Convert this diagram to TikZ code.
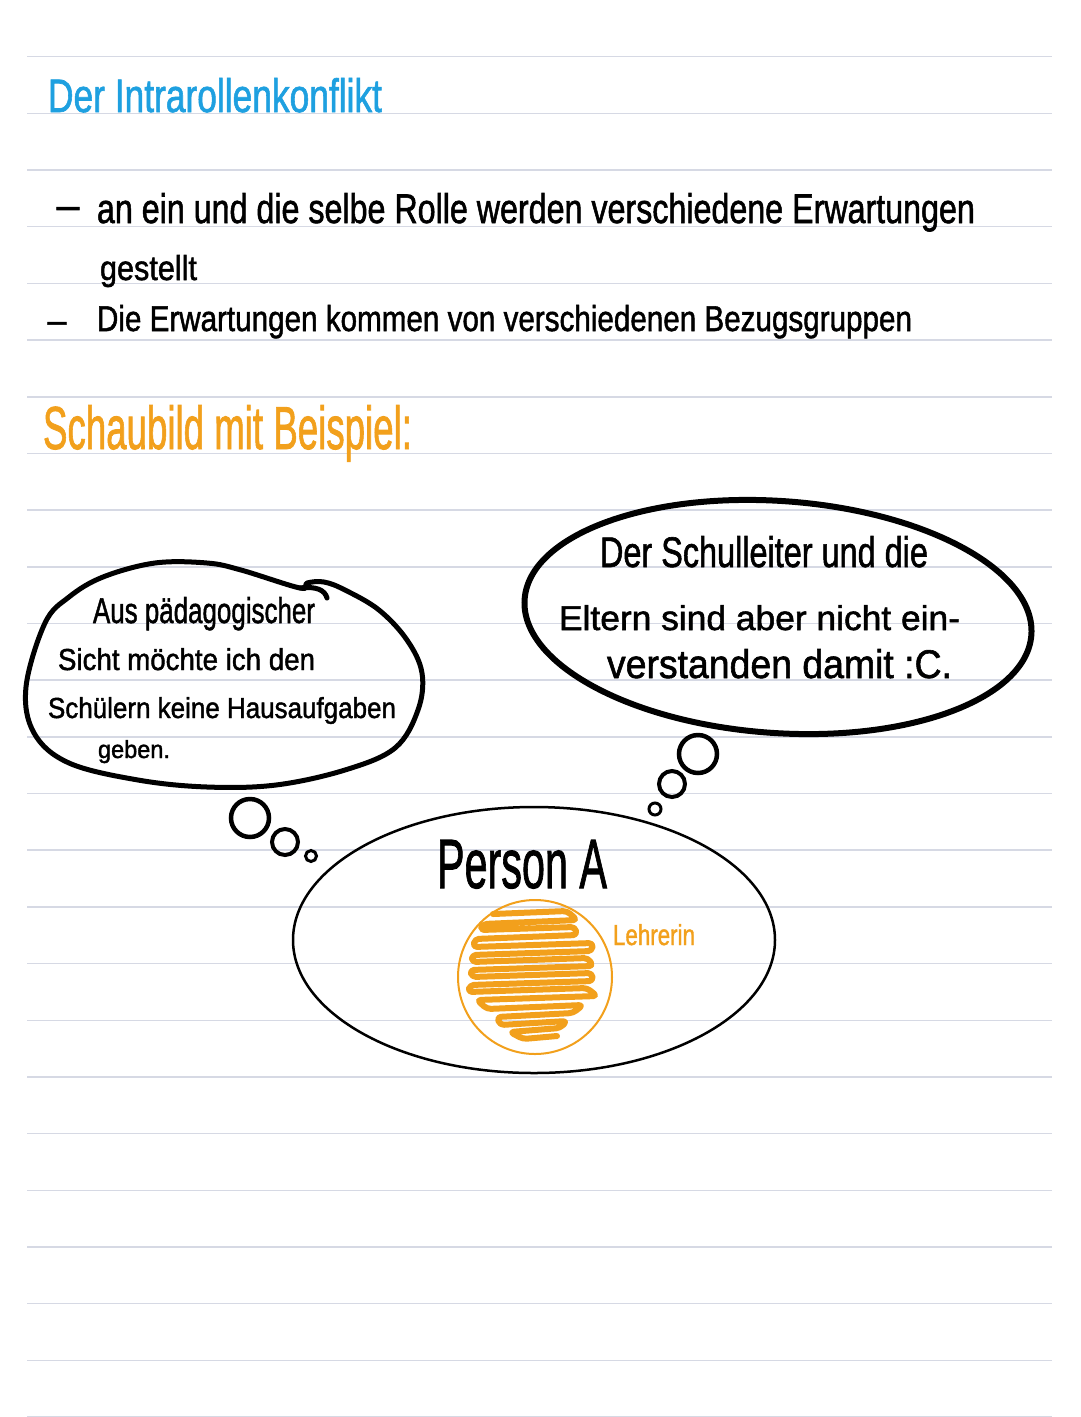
\documentclass[tikz,border=0pt]{standalone}
\usepackage{fontspec}
\setmainfont{Liberation Sans}[FakeBold=1.5]
\usepackage{graphicx}
\definecolor{titleblue}{RGB}{30,160,224}
\definecolor{hworange}{RGB}{242,160,28}
\definecolor{rulegray}{RGB}{214,217,228}
\newcommand{\fitto}[3]{\resizebox{#1pt}{#2pt}{#3}}
\begin{document}
\begin{tikzpicture}[x=1pt,y=-1pt,
  rule/.style={draw=rulegray,line width=1.5pt},
  hw/.style={anchor=base west,inner sep=0pt,outer sep=0pt},
  dashbig/.style={anchor=base,inner sep=0pt,font=\fontsize{41}{41}\selectfont},
  dashsmall/.style={anchor=base,inner sep=0pt,font=\fontsize{34}{34}\selectfont},
  bubble/.style={draw=black,line width=5pt,line join=round,line cap=round},
  thought/.style={draw=black,line width=4pt},
  scrib/.style={draw=hworange,line width=6pt,rounded corners=4pt,line join=round,line cap=round}]
\useasboundingbox (0,0) rectangle (1080,1417);
\fill[white] (0,0) rectangle (1080,1417);
\foreach \k in {1,...,25} \draw[rule] (27,{56.68*\k}) -- (1052,{56.68*\k});

% header texts
\node[hw,text=titleblue] (title) at (48,112) {\fitto{334}{34}{Der Intrarollenkonflikt}};
\node[dashbig] (d1) at (68,219) {–};
\node[hw] (l1) at (97,223) {\fitto{878}{30}{an ein und die selbe Rolle werden verschiedene Erwartungen}};
\node[hw] (l1b) at (100,280) {\fitto{97}{25}{gestellt}};
\node[dashsmall] (d2) at (57,332) {–};
\node[hw] (l2) at (97,331) {\fitto{815}{26}{Die Erwartungen kommen von verschiedenen Bezugsgruppen}};
\node[hw,text=hworange] (sub) at (43,449) {\fitto{369}{44}{Schaubild mit Beispiel:}};

% left thought bubble
\draw[bubble] plot[smooth cycle,tension=0.6] coordinates {
  (300,588) (241,570) (207,563) (155,563) (103,577) (69,597) (45,623)
  (26,687) (34,733) (69,763) (138,780) (207,787) (276,785) (345,770)
  (395,748) (418,710) (422,673) (407,640) (379,610) (345,590) (324,582) (307,583)};
\draw[bubble] (300,588) .. controls (316,586) and (325,590) .. (327,598);
\node[hw] (b1a) at (93,623) {\fitto{222}{26}{Aus pädagogischer}};
\node[hw] (b1b) at (58,670) {\fitto{257}{22}{Sicht möchte ich den}};
\node[hw] (b1c) at (48,718) {\fitto{348}{21}{Schülern keine Hausaufgaben}};
\node[hw] (b1d) at (98,758) {\fitto{72}{18}{geben.}};
\draw[thought,line width=4.5pt] (250,818) circle [radius=19];
\draw[thought,line width=4pt] (285,842) circle [radius=13];
\draw[thought,line width=3pt] (311,856) circle [radius=5.5];

% right thought bubble
\draw[bubble,line width=6pt,rotate around={-4:(778,617)}] (778,617) ellipse [x radius=254, y radius=116];
\node[hw] (b2a) at (600,567) {\fitto{328}{31}{Der Schulleiter und die}};
\node[hw] (b2b) at (559,630) {\fitto{401}{25}{Eltern sind aber nicht ein-}};
\node[hw] (b2c) at (607,678) {\fitto{345}{29}{verstanden damit :C.}};
\draw[thought,line width=4.5pt] (698,754) circle [radius=19];
\draw[thought,line width=4pt] (672,784) circle [radius=13];
\draw[thought,line width=3pt] (655,809) circle [radius=6];

% person
\draw[black,line width=2.5pt] (534,940) ellipse [x radius=241, y radius=133];
\node[hw] (person) at (437,888) {\fitto{170}{48}{Person A}};
\draw[hworange,line width=2pt] (535,977) circle [radius=77];
\draw[scrib] (493,914) -- (567,911) -- (577,920) -- (483,924) -- (480,930) -- (575,927)
  -- (577,935) -- (475,939) -- (473,947) -- (593,943) -- (592,951) -- (472,955)
  -- (472,962) -- (588,958) -- (593,966) -- (470,970) -- (472,977) -- (592,973)
  -- (593,981) -- (470,985) -- (468,992) -- (587,988) -- (597,996) -- (477,1000)
  -- (487,1009) -- (583,1005) -- (573,1013) -- (497,1017) -- (500,1025) -- (567,1021)
  -- (560,1028) -- (510,1032) -- (523,1039) -- (557,1036);
\node[hw,text=hworange] (role) at (613,945) {\fitto{82}{21}{Lehrerin}};
\end{tikzpicture}
\end{document}
